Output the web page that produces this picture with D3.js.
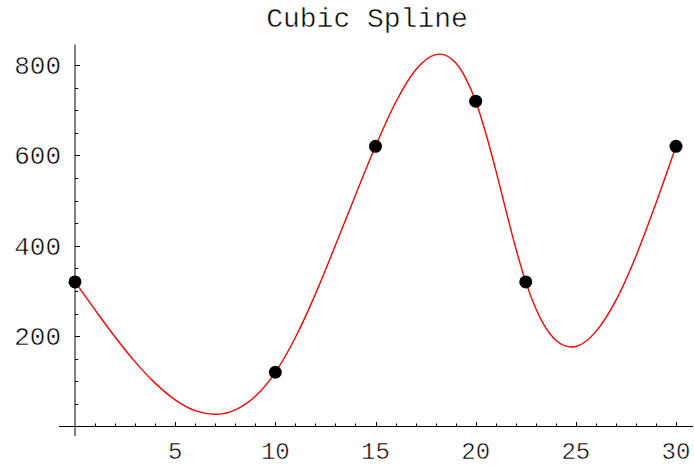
<!DOCTYPE html>
<html>
<head>
<meta charset="utf-8">
<script src="https://cdn.jsdelivr.net/npm/d3@7"></script>
<style>
  body { margin: 0; background: #fff; }
  text { font-family: "Liberation Mono", "Courier New", monospace; fill: #000;
         stroke: #fff; stroke-width: 0.5px; }
</style>
</head>
<body>
<svg id="chart_svg" width="694" height="466"></svg>
<script>
// knots of the spline
var knotX = [0, 10, 15, 20, 22.5, 30];
var knotY = [320, 120, 620, 720, 320, 620];

// curve
var curveX = [0, 1, 2, 3, 4, 5, 6, 7, 8, 9, 10, 11, 12, 13, 14, 15, 16, 17, 18, 18.2, 19, 19.5, 20,
              20.5, 21, 21.5, 22, 22.5, 23, 23.5, 24, 24.8, 25, 26, 27, 28, 29, 30];
var curveY = [320, 258, 198, 143, 96, 59, 35, 27, 37, 67, 120, 197, 293, 401, 512, 620, 717, 789, 823, 824, 805, 771, 720,
              650, 568, 480, 395, 320, 261, 218, 191, 176, 177, 210, 279, 377, 494, 620];

var xTicks = [5, 10, 15, 20, 25, 30];
var yTicks = [200, 400, 600, 800];
var titleText = "Cubic Spline";

var svg = d3.select("#chart_svg");

var x = d3.scaleLinear().domain([0, 30]).range([75, 676]);
var y = d3.scaleLinear().domain([0, 800]).range([426.5, 65]);

// axes lines
svg.append("line")
    .attr("x1", x(-0.8)).attr("x2", x(30.85))
    .attr("y1", y(0)).attr("y2", y(0))
    .attr("stroke", "#000").attr("stroke-width", 1);

svg.append("line")
    .attr("x1", x(0)).attr("x2", x(0))
    .attr("y1", y(845)).attr("y2", y(-21))
    .attr("stroke", "#000").attr("stroke-width", 1);

// minor + major ticks on x
var xMinor = d3.range(1, 31);
svg.selectAll("line.xt")
    .data(xMinor)
    .enter()
    .append("line")
    .attr("class", "xt")
    .attr("x1", function(d){ return Math.round(x(d)) + 0.5; })
    .attr("x2", function(d){ return Math.round(x(d)) + 0.5; })
    .attr("y1", y(0))
    .attr("y2", function(d){ return y(0) - (d % 5 == 0 ? 4.5 : 3); })
    .attr("stroke", "#000").attr("stroke-width", 1);

// ticks on y
var yMinor = d3.range(50, 801, 50);
svg.selectAll("line.yt")
    .data(yMinor)
    .enter()
    .append("line")
    .attr("class", "yt")
    .attr("x1", x(0))
    .attr("x2", function(d){ return x(0) + (d % 200 == 0 ? 5 : 3); })
    .attr("y1", function(d){ return Math.round(y(d)) + 0.5; })
    .attr("y2", function(d){ return Math.round(y(d)) + 0.5; })
    .attr("stroke", "#000").attr("stroke-width", 1);

// tick labels
svg.selectAll("text.xl")
    .data(xTicks)
    .enter()
    .append("text")
    .attr("class", "xl")
    .attr("x", function(d){ return x(d); })
    .attr("y", 458.5)
    .attr("text-anchor", "middle")
    .style("font-size", "24px")
    .text(function(d){ return d; });

svg.selectAll("text.yl")
    .data(yTicks)
    .enter()
    .append("text")
    .attr("class", "yl")
    .attr("x", 61)
    .attr("y", function(d){ return y(d) + 9; })
    .attr("text-anchor", "end")
    .style("font-size", "26px")
    .text(function(d){ return d; });

// title
svg.append("text")
    .attr("x", 367)
    .attr("y", 27)
    .attr("text-anchor", "middle")
    .style("font-size", "28px")
    .text(titleText);

// the spline curve
var pts = curveX.map(function(d, i){ return [d, curveY[i]]; });
var line = d3.line()
    .x(function(d){ return x(d[0]); })
    .y(function(d){ return y(d[1]); })
    .curve(d3.curveMonotoneX);

svg.append("path")
    .datum(pts)
    .attr("d", line)
    .attr("fill", "none")
    .attr("stroke", "#ff0000")
    .attr("stroke-width", 1.4);

// data points
svg.selectAll("circle")
    .data(knotX)
    .enter()
    .append("circle")
    .attr("cx", function(d){ return x(d); })
    .attr("cy", function(d, i){ return y(knotY[i]); })
    .attr("r", 6.5)
    .attr("fill", "#000");
</script>
</body>
</html>
